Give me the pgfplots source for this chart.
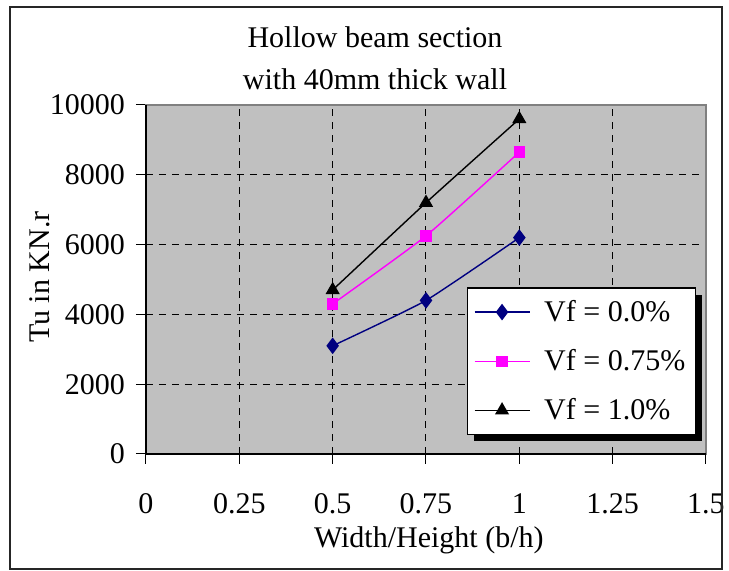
\documentclass[border=0pt]{standalone}
\usepackage{fontspec}
\setmainfont{Liberation Serif}
\usepackage{pgfplots}
\pgfplotsset{compat=1.18}
\definecolor{plotgray}{RGB}{192,192,192}
\definecolor{navyline}{RGB}{0,0,128}
\definecolor{magentaline}{RGB}{255,0,255}
\definecolor{framegray}{RGB}{128,128,128}
\newcommand\chartfont{\fontsize{15pt}{18pt}\selectfont}
\begin{document}
\begin{tikzpicture}
\useasboundingbox (-73pt,-58.5pt) rectangle (291.5pt,227pt);
\begin{axis}[
  scale only axis, width=280pt, height=174.5pt,
  at={(0pt,0pt)}, anchor=south west,
  xmin=0, xmax=1.5, ymin=0, ymax=10000,
  scaled y ticks=false, scaled x ticks=false,
  xtick={0,0.25,0.5,0.75,1,1.25,1.5},
  xticklabels={0,0.25,0.5,0.75,1,1.25,1.5},
  ytick={0,2000,4000,6000,8000,10000},
  yticklabels={0,2000,4000,6000,8000,10000},
  tick pos=left, tick align=outside, major tick length=5pt,
  tick style={black, line width=0.5pt},
  grid=major,
  major grid style={black, line width=0.5pt, dash pattern=on 3.5pt off 3pt},
  axis background/.style={fill=plotgray},
  axis line style={framegray, line width=0.6pt},
  /pgf/number format/assume math mode=true,
  ticklabel style={font=\chartfont},
  xticklabel style={anchor=base, yshift=-25pt},
  yticklabel style={anchor=east, xshift=-2pt},
  xlabel={Width/Height (b/h)},
  xlabel style={at={(axis description cs:0.505,-0.269)}, anchor=base, font=\chartfont},
  ylabel={Tu in KN.r},
  ylabel style={at={(axis description cs:-0.173,0.507)}, anchor=base, rotate=0, font=\chartfont},
  clip=false,
  legend cell align=left,
  legend style={at={(0.982,0.0544)}, anchor=south east, font=\chartfont,
    draw=black, line width=0.6pt, fill=white,
    inner xsep=3pt, inner ysep=4pt, row sep=8.5pt, column sep=5pt,
    nodes={inner sep=2pt}},
  legend image code/.code={\draw[sharp plot, mark repeat=2, mark phase=2] plot coordinates {(0pt,0pt) (13.75pt,0pt) (27.5pt,0pt)};},
]
\addplot[navyline, line width=0.7pt, smooth, tension=0.3, mark=diamond*, mark size=3.6pt, mark options={solid, fill=navyline}]
  coordinates {(0.5,3100) (0.75,4400) (1,6200)};
\addlegendentry{Vf = 0.0\%}
\addplot[magentaline, line width=0.7pt, smooth, tension=0.3, mark=square*, mark size=2.5pt, mark options={solid, fill=magentaline}]
  coordinates {(0.5,4300) (0.75,6250) (1,8650)};
\addlegendentry{Vf = 0.75\%}
\addplot[black, line width=0.7pt, smooth, tension=0.3, mark=triangle*, mark size=3.4pt, mark options={solid, fill=black}]
  coordinates {(0.5,4700) (0.75,7200) (1,9600)};
\addlegendentry{Vf = 1.0\%}
\draw[black, line width=0.6pt] (rel axis cs:0,1) -- (rel axis cs:0,0) -- (rel axis cs:1,0);
% legend drop shadow (drawn before the legend box, which covers all but its offset edges)
\fill[black] ([xshift=3pt,yshift=-3pt]axis description cs:0.982,0.0544) rectangle ([xshift=-111pt,yshift=70pt]axis description cs:0.982,0.0544);
\end{axis}
\node[anchor=base, font=\chartfont] at (114.5pt,203pt) {Hollow beam section};
\node[anchor=base, font=\chartfont] at (114.5pt,182pt) {with 40mm thick wall};
\draw[black!85, line width=0.6pt] (-68pt,-57.5pt) rectangle (288pt,223.5pt);
\end{tikzpicture}
\end{document}
